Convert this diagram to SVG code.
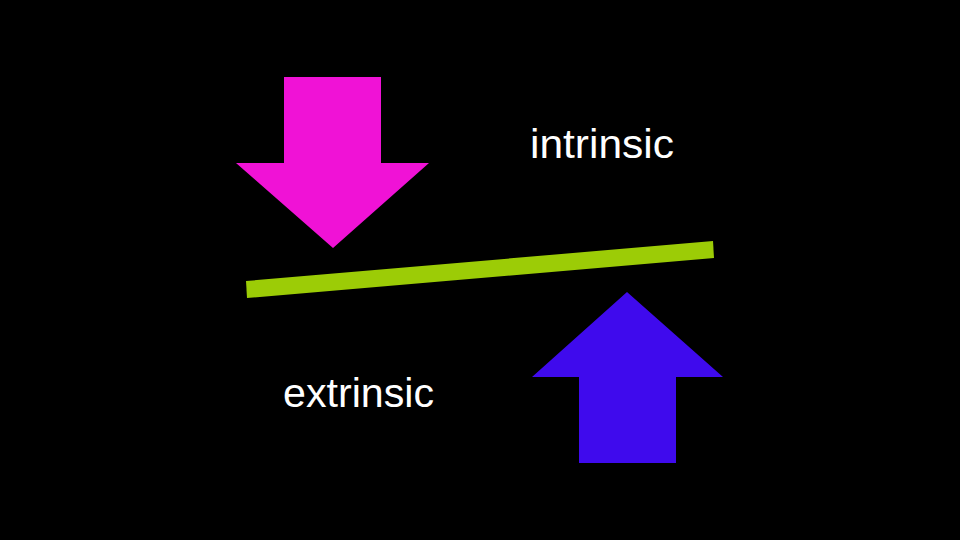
<svg xmlns="http://www.w3.org/2000/svg" width="960" height="540" viewBox="0 0 960 540">
<style>
.lbl{font-family:"Liberation Sans","Open Sans",sans-serif;font-size:41px;fill:#ffffff}
</style>
<rect width="960" height="540" fill="#000000"/>
<g id="pink-arrow"><polygon points="284,77 381,77 381,163 429,163 333,248 236,163 284,163" fill="#f012d6"/></g>
<g id="blue-arrow"><polygon points="627,292 723,377 676,377 676,463 579,463 579,377 532,377" fill="#3f0aed"/></g>
<g id="bar"><polygon points="246,281 713,241 714,258 247,298" fill="#9ccc06"/></g>
<g id="intrinsic"><text class="lbl" x="530" y="158" textLength="144" lengthAdjust="spacingAndGlyphs">intrinsic</text></g>
<g id="extrinsic"><text class="lbl" x="283" y="407" textLength="151" lengthAdjust="spacingAndGlyphs">extrinsic</text></g>
<g id="connectors"></g>
</svg>
